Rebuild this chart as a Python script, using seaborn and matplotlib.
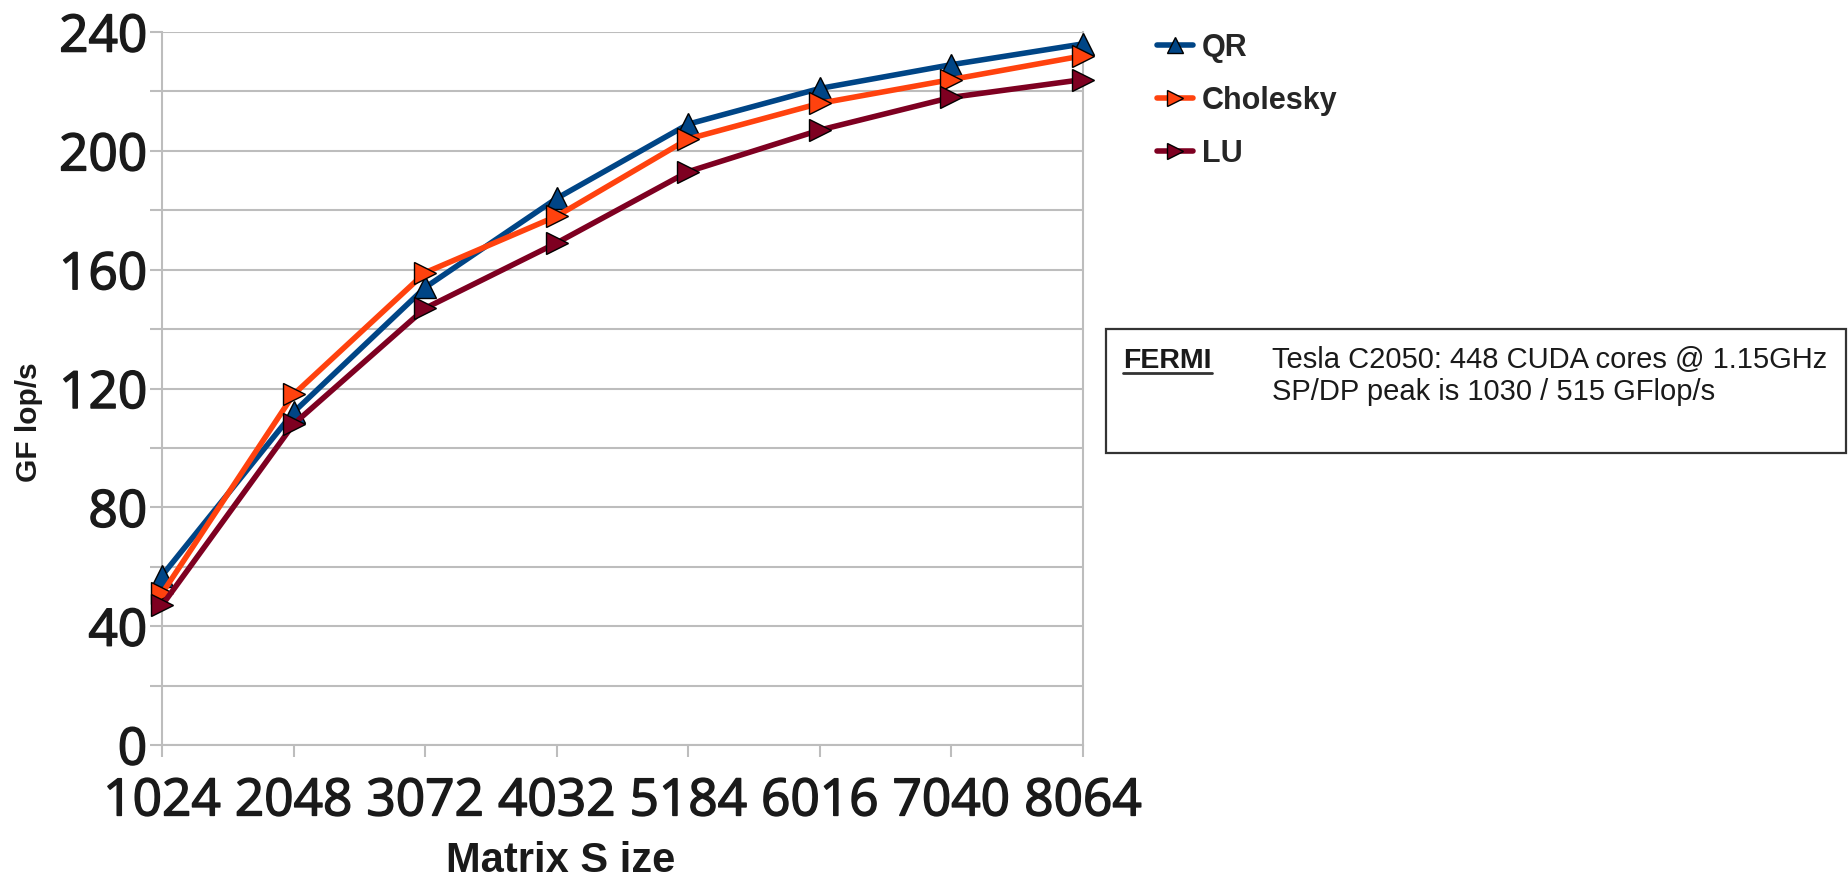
import numpy as np
import pandas as pd
import matplotlib
matplotlib.use("Agg")
import matplotlib.pyplot as plt
import matplotlib.patheffects as pe
from matplotlib.lines import Line2D
from matplotlib.patches import Rectangle
import seaborn as sns

# Matrix sizes on the x axis (categorical)
sizes = ["1024", "2048", "3072", "4032", "5184", "6016", "7040", "8064"]

# Double-precision GFlop/s for each factorization
qr_gflops = [57, 112, 154, 184, 209, 221, 229, 236]
cholesky_gflops = [51, 118, 159, 178, 204, 216, 224, 232]
lu_gflops = [47, 108, 147, 169, 193, 207, 218, 224]

algorithms = ["QR", "Cholesky", "LU"]
y_ticks = [0, 40, 80, 120, 160, 200, 240]

colors = {"QR": "#004586", "Cholesky": "#ff420e", "LU": "#7e0021"}
markers = {"QR": "^", "Cholesky": ">", "LU": ">"}

df = pd.concat([
    pd.DataFrame({"size": sizes, "gflops": qr_gflops, "algo": "QR"}),
    pd.DataFrame({"size": sizes, "gflops": cholesky_gflops, "algo": "Cholesky"}),
    pd.DataFrame({"size": sizes, "gflops": lu_gflops, "algo": "LU"}),
], ignore_index=True)

sns.set_theme(style="white")
plt.rcParams["font.family"] = ["Liberation Sans", "DejaVu Sans"]

W, H = 1848, 880
fig = plt.figure(figsize=(W / 100, H / 100), dpi=100)
ax_l, ax_r, ax_t, ax_b = 162, 1083, 32, 745
ax = fig.add_axes([ax_l / W, 1 - ax_b / H, (ax_r - ax_l) / W, (ax_b - ax_t) / H])

grid_c = "#bdbdbd"
text_c = "#1a1a1a"

sns.pointplot(
    data=df, x="size", y="gflops", hue="algo",
    order=sizes, hue_order=algorithms,
    palette=colors, markers=[markers[a] for a in algorithms],
    linestyles="-", errorbar=None, ax=ax,
    markersize=16.5, linewidth=4.0,
    markeredgecolor="black", markeredgewidth=1.0,
)
for ln in ax.lines:
    ln.set_clip_on(False)
    ln.set_zorder(3)
if ax.get_legend() is not None:
    ax.get_legend().remove()

ax.set_xlim(0, len(sizes) - 1)
ax.set_ylim(0, 240)
ax.set_yticks(y_ticks)
ax.set_yticks(np.arange(20, 240, 40), minor=True)
ax.set_yticklabels([str(v) for v in y_ticks])
ax.set_xticks(range(len(sizes)))
ax.set_xticklabels(sizes)

# slightly heavier digits for the tick labels
heavy = [pe.withStroke(linewidth=1.1, foreground=text_c)]
for lab in ax.get_xticklabels() + ax.get_yticklabels():
    lab.set_fontfamily(["Open Sans", "DejaVu Sans"])
    lab.set_fontsize(37)
    lab.set_color(text_c)
    lab.set_path_effects(heavy)

ax.grid(False)
ax.yaxis.grid(True, which="both", color=grid_c, linewidth=1.5)
ax.set_axisbelow(True)
for s in ax.spines.values():
    s.set_visible(True)
    s.set_color(grid_c)
    s.set_linewidth(1.5)
ax.spines["top"].set_visible(False)

ax.tick_params(axis="y", which="both", direction="out", length=8.6, width=1.5,
               color=grid_c, left=True, pad=2)
ax.tick_params(axis="x", which="major", direction="out", length=8.6, width=1.5,
               color=grid_c, bottom=True, pad=14)

ax.set_xlabel("Matrix S ize", fontsize=30, fontweight="bold", color=text_c,
              va="baseline")
ax.xaxis.set_label_coords((561 - ax_l) / (ax_r - ax_l), (ax_b - 872) / (ax_b - ax_t))
ax.set_ylabel("GF lop/s", fontsize=21.5, fontweight="bold", color=text_c,
              va="center")
ax.yaxis.set_label_coords((29 - ax_l) / (ax_r - ax_l), (ax_b - 422) / (ax_b - ax_t))

# Legend on the right
handles = [Line2D([], [], color=colors[a], lw=4.0, marker=markers[a], markersize=11,
                  markeredgecolor="black", markeredgewidth=1.0) for a in algorithms]
fig.legend(handles, algorithms, loc="upper left",
           bbox_to_anchor=(1157 / W, 1 - 33 / H), bbox_transform=fig.transFigure,
           frameon=False, borderpad=0, borderaxespad=0, handlelength=1.17,
           handletextpad=0.3, labelspacing=0.75,
           prop={"family": "Liberation Sans", "weight": "bold", "size": 22})

# Hardware note box
bx0, bx1, by0, by1 = 1106, 1846, 329, 453
fig.patches.append(Rectangle((bx0 / W, 1 - by1 / H), (bx1 - bx0) / W, (by1 - by0) / H,
                             transform=fig.transFigure, fill=False,
                             edgecolor="#333333", linewidth=1.6))
fermi = fig.text(1123 / W, 1 - 368 / H, "FERMI", fontsize=20.5, fontweight="bold",
                 color=text_c, va="baseline", ha="left")
fig.text(1272 / W, 1 - 368 / H, "Tesla C2050: 448 CUDA cores @ 1.15GHz",
         fontsize=21, color=text_c, va="baseline", ha="left")
fig.text(1272 / W, 1 - 400 / H, "SP/DP peak is 1030 / 515 GFlop/s",
         fontsize=21, color=text_c, va="baseline", ha="left")

fig.canvas.draw()
bb = fermi.get_window_extent(fig.canvas.get_renderer())
uy = (H - 373) / H
fig.lines.append(Line2D([bb.x0 / W, bb.x1 / W], [uy, uy], transform=fig.transFigure,
                        color="#333333", linewidth=2.0))

fig.savefig("out.png", dpi=100, facecolor="white")
